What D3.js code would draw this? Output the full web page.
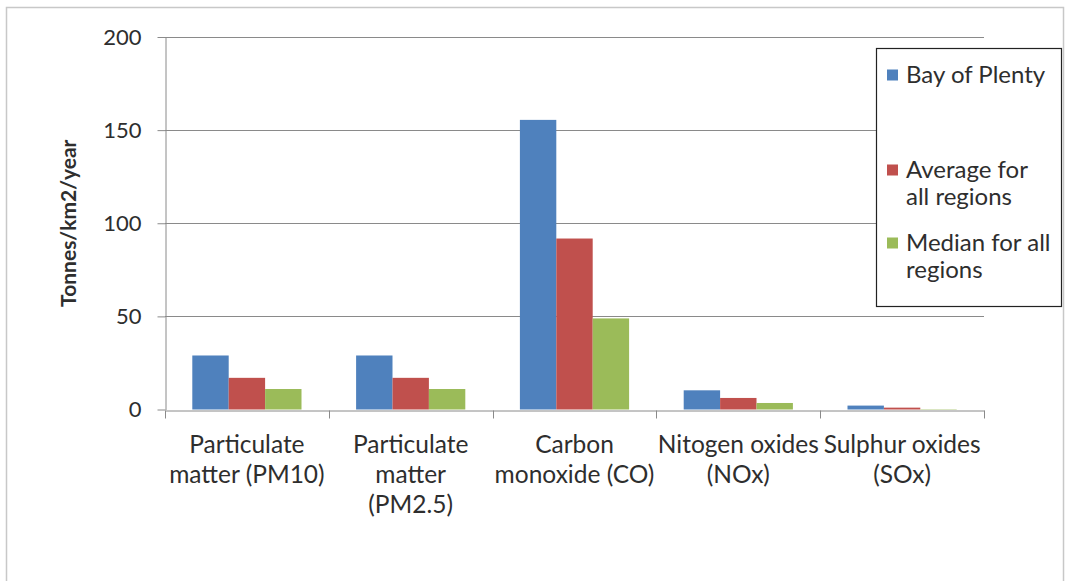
<!DOCTYPE html>
<html>
<head>
<meta charset="utf-8">
<script src="https://cdn.jsdelivr.net/npm/d3@7"></script>
<style>
  html, body { margin: 0; padding: 0; background: #fff; }
  svg { display: block; }
  text { font-family: Lato, "Open Sans", sans-serif; fill: #2e2e2e; }
</style>
</head>
<body>
<svg id="chart" width="1066" height="581"></svg>
<script>
const categories = ["PM10", "PM2.5", "CO", "NOx", "SOx"];
const categoryLabels = [
  ["Particulate", "matter (PM10)"],
  ["Particulate", "matter", "(PM2.5)"],
  ["Carbon", "monoxide (CO)"],
  ["Nitogen oxides", "(NOx)"],
  ["Sulphur oxides", "(SOx)"]
];
const seriesNames = ["Bay of Plenty", "Average for all regions", "Median for all regions"];
const legendLabels = [["Bay of Plenty"], ["Average for", "all regions"], ["Median for all", "regions"]];
const bayOfPlenty = [29, 29, 155.5, 10.3, 2.1];
const averageAll = [17, 17, 91.8, 6.2, 1.0];
const medianAll = [11, 11, 48.9, 3.5, 0.2];
const yTicks = [0, 50, 100, 150, 200];
const colors = ["#4F81BD", "#C0504D", "#9BBB59"];

const series = [bayOfPlenty, averageAll, medianAll];
const svg = d3.select("#chart");

// outer chart border
svg.append("rect").attr("x", 6.5).attr("y", 7.5).attr("width", 1057).attr("height", 620)
  .attr("fill", "none").attr("stroke", "#c8c8c8").attr("stroke-width", 1.5);

const plot = { left: 165, right: 984, top: 37, bottom: 409.5 };

const x = d3.scaleBand().domain(categories).range([plot.left, plot.right]).paddingInner(0).paddingOuter(0);
const y = d3.scaleLinear().domain([0, 200]).range([plot.bottom, plot.top]);

const catW = x.bandwidth();
const barW = catW / 4.5;
const xs = d3.scaleBand().domain(d3.range(series.length)).range([0, barW * 3]);

// gridlines
svg.append("g").selectAll("line").data(yTicks.filter(d => d > 0)).join("line")
  .attr("x1", plot.left).attr("x2", plot.right)
  .attr("y1", d => Math.round(y(d)) + 0.5).attr("y2", d => Math.round(y(d)) + 0.5)
  .attr("stroke", "#8a8a8a").attr("stroke-width", 1);

// bars
const gBars = svg.append("g");
series.forEach((vals, si) => {
  gBars.append("g").selectAll("rect").data(vals).join("rect")
    .attr("x", (d, i) => x(categories[i]) + barW * 0.75 + xs(si))
    .attr("y", d => y(d))
    .attr("width", barW)
    .attr("height", d => y(0) - y(d))
    .attr("fill", colors[si]);
});

// y axis
const yAxis = d3.axisLeft(y).tickValues(yTicks).tickSize(8).tickPadding(16).tickSizeOuter(0);
const gy = svg.append("g").attr("transform", `translate(${plot.left + 0.5},0)`).call(yAxis);
gy.select(".domain").attr("stroke", "#8a8a8a");
gy.selectAll(".tick line").attr("stroke", "#8a8a8a");
gy.selectAll(".tick text").style("font-size", "22px").attr("fill", "#2e2e2e").style("font-family", "Lato, sans-serif");

// x axis
const xAxis = d3.axisBottom(x).tickSize(0).tickFormat("").tickSizeOuter(0);
const gx = svg.append("g").attr("transform", `translate(0,${Math.round(y(0)) + 0.5})`).call(xAxis);
gx.select(".domain").attr("stroke", "#8a8a8a");
// category boundary tick marks
const bounds = categories.map(c => x(c)).concat([plot.right]);
gx.append("g").selectAll("line").data(bounds).join("line")
  .attr("x1", d => Math.round(d) + 0.5).attr("x2", d => Math.round(d) + 0.5)
  .attr("y1", 0).attr("y2", 8).attr("stroke", "#8a8a8a");

// x labels
const gxl = svg.append("g");
categories.forEach((c, i) => {
  const t = gxl.append("text")
    .attr("x", x(c) + catW / 2)
    .attr("y", 453)
    .attr("text-anchor", "middle")
    .style("font-size", "24.5px");
  categoryLabels[i].forEach((line, li) => {
    t.append("tspan").attr("x", x(c) + catW / 2).attr("dy", li === 0 ? 0 : 30).text(line);
  });
});

// y title
svg.append("text")
  .attr("transform", `translate(76,${(plot.top + plot.bottom) / 2}) rotate(-90)`)
  .attr("text-anchor", "middle")
  .style("font-size", "21px").style("font-weight", "bold")
  .text("Tonnes/km2/year");

// legend
const lg = svg.append("g");
lg.append("rect").attr("x", 876.5).attr("y", 48.5).attr("width", 185).attr("height", 258)
  .attr("fill", "#fff").attr("stroke", "#222").attr("stroke-width", 1.2);
const legendY = [75, 170, 243];
seriesNames.forEach((name, i) => {
  lg.append("rect").attr("x", 887).attr("y", legendY[i] - 5.5).attr("width", 11).attr("height", 11).attr("fill", colors[i]);
  const t = lg.append("text").attr("x", 906).attr("y", legendY[i] + 8).style("font-size", "24px");
  legendLabels[i].forEach((line, li) => {
    t.append("tspan").attr("x", 906).attr("dy", li === 0 ? 0 : 27).text(line);
  });
});
</script>
</body>
</html>
